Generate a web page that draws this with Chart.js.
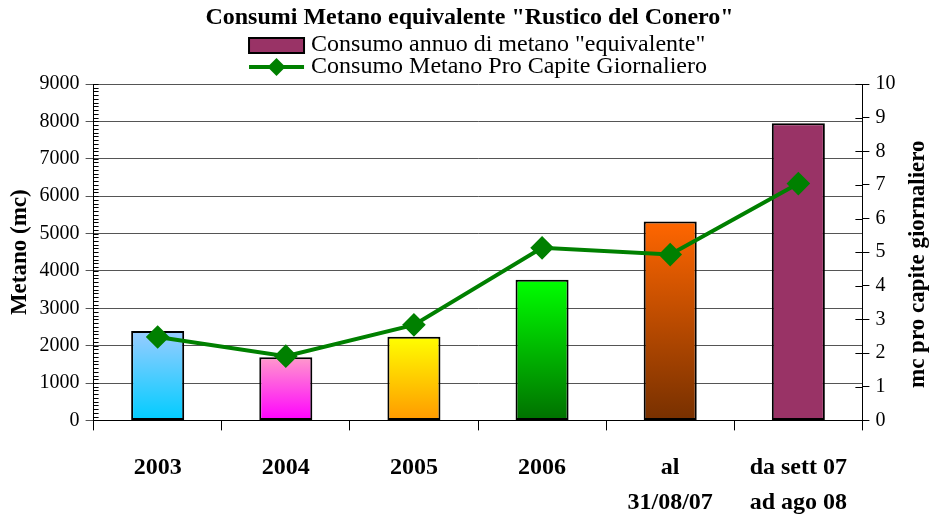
<!DOCTYPE html>
<html lang="it">
<head>
  <meta charset="utf-8">
  <title>Consumi Metano equivalente</title>
  <script src="https://cdn.jsdelivr.net/npm/chart.js"></script>
  <style>
    html, body { margin: 0; padding: 0; background: #fff; }
  </style>
</head>
<body>
  <canvas id="chart" width="935" height="519"></canvas>

  <script>
    // data
    const categories = ['2003', '2004', '2005', '2006', ['al', '31/08/07'], ['da sett 07', 'ad ago 08']];
    const consumoAnnuo = [2390, 1690, 2240, 3760, 5320, 7950];
    const proCapite = [2.48, 1.91, 2.84, 5.13, 4.93, 7.04];

    // bar gradients (top, bottom)
    const barTop = ['#99ccff', '#ff99cc', '#ffff00', '#00ff00', '#ff6600', '#993366'];
    const barBottom = ['#00ccff', '#ff00ff', '#ff9900', '#007000', '#773000', '#993366'];

    const serif = "'Liberation Serif', 'Times New Roman', serif";

    function barFill(ctx) {
      const chart = ctx.chart;
      const i = ctx.dataIndex;
      if (!chart.chartArea || i === undefined) return barTop[i] || '#993366';
      const y = chart.scales.y;
      const top = y.getPixelForValue(consumoAnnuo[i]);
      const bottom = y.getPixelForValue(0);
      const g = chart.ctx.createLinearGradient(0, top, 0, bottom);
      g.addColorStop(0, barTop[i]);
      g.addColorStop(1, barBottom[i]);
      return g;
    }

    // legend drawn as two left-aligned rows under the title
    const rowLegend = {
      id: 'rowLegend',
      afterDraw(chart) {
        const c = chart.ctx;
        const ds = chart.data.datasets;
        c.save();
        c.font = '24px ' + serif;
        const textW = Math.max(...ds.map(d => c.measureText(d.label).width));
        const blockW = 62 + textW;
        const x0 = (chart.chartArea.left + chart.chartArea.right) / 2 - blockW / 2;
        const rows = [45, 67];
        // bar swatch
        c.fillStyle = '#993366';
        c.fillRect(x0, rows[0] - 7, 55, 15);
        c.strokeStyle = '#000';
        c.lineWidth = 2;
        c.strokeRect(x0, rows[0] - 7, 55, 15);
        // line swatch
        c.strokeStyle = '#008000';
        c.lineWidth = 4;
        c.beginPath(); c.moveTo(x0, rows[1]); c.lineTo(x0 + 55, rows[1]); c.stroke();
        c.fillStyle = '#008000';
        const mx = x0 + 27.5;
        c.beginPath();
        c.moveTo(mx, rows[1] - 9); c.lineTo(mx + 9, rows[1]); c.lineTo(mx, rows[1] + 9); c.lineTo(mx - 9, rows[1]);
        c.closePath(); c.fill();
        // texts
        c.fillStyle = '#000';
        c.textBaseline = 'middle';
        c.textAlign = 'left';
        ds.forEach((d, i) => c.fillText(d.label, x0 + 62, rows[i]));
        c.restore();
      }
    };

    // small ruler ticks on the left axis, crossing ticks on the right axis,
    // and the right axis title read bottom-to-top
    const axisExtras = {
      id: 'axisExtras',
      afterDraw(chart) {
        const y = chart.scales.y;
        const y1 = chart.scales.y1;
        const c = chart.ctx;
        c.save();
        c.strokeStyle = '#000';
        c.lineWidth = 1;
        c.beginPath();
        for (let v = 0; v <= 9000; v += 100) {
          const py = Math.round(y.getPixelForValue(v)) + 0.5;
          c.moveTo(y.right, py);
          c.lineTo(y.right + 5, py);
        }
        for (let v = 0; v <= 10; v += 1) {
          const py = Math.round(y1.getPixelForValue(v)) + 0.5;
          c.moveTo(y1.left - 7, py);
          c.lineTo(y1.left, py);
        }
        c.stroke();
        c.translate(chart.width - 17, (chart.chartArea.top + chart.chartArea.bottom) / 2 + 12);
        c.rotate(-Math.PI / 2);
        c.fillStyle = '#000';
        c.font = 'bold 23px ' + serif;
        c.textAlign = 'center';
        c.textBaseline = 'middle';
        c.fillText('mc pro capite giornaliero', 0, 0);
        c.restore();
      }
    };

    new Chart(document.getElementById('chart'), {
      data: {
        labels: categories,
        datasets: [
          {
            type: 'bar',
            label: 'Consumo annuo di metano "equivalente"',
            data: consumoAnnuo,
            yAxisID: 'y',
            backgroundColor: barFill,
            borderColor: '#000',
            borderWidth: 2,
            borderSkipped: false,
            categoryPercentage: 1,
            barPercentage: 0.414,
            order: 1
          },
          {
            type: 'line',
            label: 'Consumo Metano Pro Capite Giornaliero',
            data: proCapite,
            yAxisID: 'y1',
            borderColor: '#008000',
            backgroundColor: '#008000',
            borderWidth: 4,
            pointStyle: 'rectRot',
            pointRadius: 9,
            pointHoverRadius: 9,
            tension: 0,
            order: 0
          }
        ]
      },
      options: {
        responsive: false,
        animation: false,
        layout: { padding: { left: 6, right: 2, top: 0, bottom: -21 } },
        plugins: {
          title: {
            display: true,
            text: 'Consumi Metano equivalente "Rustico del Conero"',
            color: '#000',
            font: { family: serif, size: 24, weight: 'bold', lineHeight: 1 },
            padding: { top: 6, bottom: 54 }
          },
          legend: { display: false },
          tooltip: { enabled: false }
        },
        scales: {
          x: {
            offset: true,
            grid: { display: true, drawOnChartArea: false, offset: true, color: '#000', tickLength: 10 },
            border: { color: '#000', width: 1 },
            ticks: {
              color: '#000',
              font: { family: serif, size: 24, weight: 'bold', lineHeight: 1.45 },
              padding: 20,
              maxRotation: 0,
              autoSkip: false
            }
          },
          y: {
            position: 'left',
            min: 0,
            max: 9000,
            ticks: {
              stepSize: 1000,
              color: '#000',
              font: { family: serif, size: 20 },
              padding: 6,
              callback: v => String(v)
            },
            grid: { color: '#555', lineWidth: 1, tickLength: 8 },
            border: { color: '#000', width: 1 },
            title: {
              display: true,
              text: 'Metano (mc)',
              color: '#000',
              font: { family: serif, size: 23, weight: 'bold' },
              padding: 0
            }
          },
          y1: {
            position: 'right',
            min: 0,
            max: 10,
            ticks: { stepSize: 1, color: '#000', font: { family: serif, size: 20 }, padding: 6 },
            grid: { drawOnChartArea: false, color: '#000', tickLength: 7 },
            border: { color: '#000', width: 1 },
            title: {
              display: true,
              text: 'mc pro capite giornaliero',
              color: 'rgba(0,0,0,0)',
              font: { family: serif, size: 23, weight: 'bold' },
              padding: { top: 4, bottom: 0 }
            }
          }
        }
      },
      plugins: [rowLegend, axisExtras]
    });
  </script>
</body>
</html>
